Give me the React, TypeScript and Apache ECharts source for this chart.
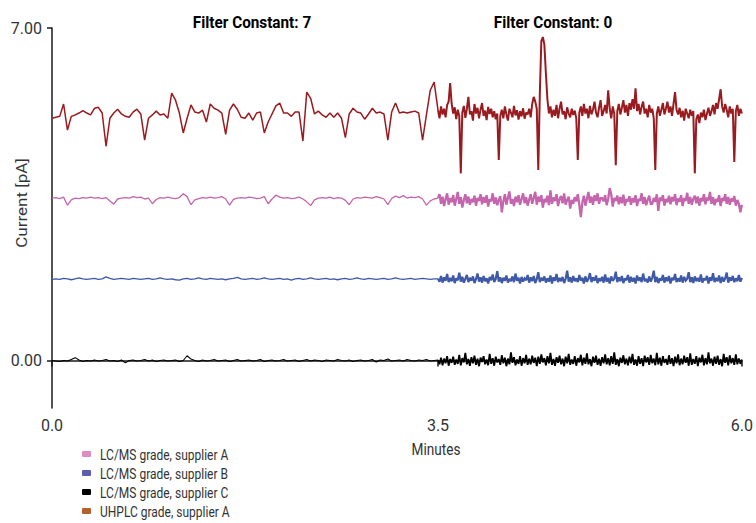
import React, { useEffect, useRef } from "react";
import * as echarts from "echarts";

const FONT = "Roboto, 'Liberation Sans', sans-serif";

const LEFT_STEP = 0.035; // minutes between samples, filter constant 7 part (0 - 3.5)
const RIGHT_START = 3.5;
const RIGHT_STEP = 0.0125; // minutes between samples, filter constant 0 part (3.5 - 6.0)

const xTicksLeft = [0, 3.5];
const xTicksRight = [6];
const yTicks = [0, 7];

const seriesNames = [
  "LC/MS grade, supplier A",
  "LC/MS grade, supplier B",
  "LC/MS grade, supplier C",
  "UHPLC grade, supplier A",
];

// UHPLC grade, supplier A (dark red trace)
const uhplcLeft = [
  5.10, 5.12, 5.14, 5.40, 4.85, 5.14, 5.17, 5.21, 5.26, 5.21,
  5.17, 5.31, 5.33, 5.21, 4.51, 5.10, 5.21, 5.29, 5.19, 5.14,
  5.12, 5.23, 5.29, 5.19, 4.64, 5.10, 5.17, 5.25, 5.17, 5.19,
  5.10, 5.63, 5.48, 5.21, 4.79, 5.10, 5.38, 5.23, 5.21, 5.27,
  5.02, 5.40, 5.31, 5.27, 5.21, 4.76, 5.27, 5.40, 5.29, 5.12,
  5.10, 5.21, 5.06, 5.21, 5.23, 4.79, 5.02, 5.19, 5.36, 5.42,
  5.21, 5.21, 5.14, 5.23, 5.23, 4.62, 5.65, 5.52, 5.19, 5.25,
  5.17, 5.12, 5.21, 5.12, 5.21, 5.10, 4.69, 5.19, 5.31, 5.23,
  5.21, 5.08, 5.19, 5.31, 5.21, 5.23, 5.19, 4.64, 5.23, 5.42,
  5.21, 5.23, 5.21, 5.23, 5.25, 5.21, 4.64, 5.17, 5.69, 5.86,
  5.27,
];
const uhplcRight = [
  5.27, 5.10, 5.35, 5.18, 5.30, 5.12, 5.38, 5.45, 5.84, 5.40,
  5.20, 5.33, 5.08, 5.28, 5.15, 3.94, 5.22, 5.36, 5.11, 5.30,
  5.55, 5.18, 5.25, 5.05, 5.40, 5.20, 5.32, 5.10, 5.28, 5.42,
  5.15, 5.26, 5.06, 5.34, 5.19, 5.30, 5.12, 5.25, 5.08, 5.20,
  4.22, 5.15, 5.28, 5.10, 5.35, 5.18, 5.05, 5.30, 5.22, 5.12,
  5.36, 5.16, 5.27, 5.07, 5.25, 5.14, 5.31, 5.09, 5.22, 5.18,
  5.30, 5.12, 5.40, 5.55, 5.45, 5.30, 4.01, 5.60, 6.72, 6.81,
  6.65, 6.05, 5.50, 5.20, 5.35, 5.12, 5.28, 5.15, 5.38, 5.10,
  5.30, 5.45, 5.18, 5.25, 5.08, 5.33, 5.20, 5.12, 5.30, 5.17,
  5.26, 5.10, 4.22, 5.22, 5.35, 5.15, 5.40, 5.20, 5.30, 5.10,
  5.36, 5.18, 5.28, 5.45, 5.22, 5.12, 5.32, 5.48, 5.15, 5.25,
  5.38, 5.20, 5.69, 5.30, 5.10, 5.35, 5.20, 4.11, 5.25, 5.40,
  5.18, 5.32, 5.48, 5.22, 5.38, 5.15, 5.42, 5.28, 5.50, 5.30,
  5.73, 5.25, 5.40, 5.18, 5.34, 5.45, 5.20, 5.30, 5.12, 5.38,
  5.22, 5.30, 5.10, 4.01, 5.20, 5.35, 5.15, 5.28, 5.42, 5.18,
  5.30, 5.45, 5.22, 5.35, 5.15, 5.40, 5.65, 5.28, 5.18, 5.32,
  5.12, 5.26, 5.05, 5.30, 5.20, 5.10, 5.28, 5.15, 5.25, 3.94,
  5.08, 5.18, 5.00, 5.22, 5.12, 5.28, 5.06, 5.20, 5.32, 5.15,
  5.25, 5.38, 5.18, 5.42, 5.30, 5.50, 5.71, 5.35, 5.22, 5.40,
  5.28, 5.12, 5.35, 5.20, 5.30, 4.18, 5.25, 5.38, 5.15, 5.30,
  5.20,
];

// LC/MS grade, supplier A (pink trace)
const lcmsALeft = [
  3.42, 3.43, 3.41, 3.44, 3.27, 3.38, 3.42, 3.41, 3.43, 3.42,
  3.44, 3.42, 3.43, 3.41, 3.43, 3.36, 3.29, 3.40, 3.42, 3.43,
  3.42, 3.45, 3.43, 3.44, 3.40, 3.42, 3.30, 3.39, 3.43, 3.42,
  3.44, 3.42, 3.41, 3.43, 3.51, 3.45, 3.28, 3.38, 3.41, 3.43,
  3.42, 3.44, 3.42, 3.43, 3.45, 3.40, 3.27, 3.39, 3.42, 3.43,
  3.42, 3.44, 3.43, 3.41, 3.42, 3.45, 3.30, 3.40, 3.48, 3.44,
  3.42, 3.43, 3.41, 3.42, 3.44, 3.40, 3.34, 3.26, 3.38, 3.42,
  3.43, 3.42, 3.44, 3.41, 3.43, 3.42, 3.37, 3.28, 3.40, 3.43,
  3.42, 3.44, 3.43, 3.42, 3.45, 3.43, 3.40, 3.28, 3.41, 3.46,
  3.43, 3.47, 3.42, 3.44, 3.43, 3.45, 3.40, 3.27, 3.36, 3.40,
  3.42,
];
const lcmsARight = [
  3.42, 3.50, 3.30, 3.45, 3.25, 3.40, 3.52, 3.28, 3.42, 3.33,
  3.48, 3.26, 3.40, 3.55, 3.30, 3.44, 3.22, 3.38, 3.50, 3.31,
  3.45, 3.28, 3.40, 3.33, 3.47, 3.26, 3.42, 3.36, 3.50, 3.29,
  3.44, 3.32, 3.48, 3.24, 3.40, 3.35, 3.52, 3.30, 3.43, 3.27,
  3.38, 3.46, 3.12, 3.35, 3.50, 3.28, 3.42, 3.56, 3.30, 3.40,
  3.25, 3.45, 3.33, 3.48, 3.28, 3.40, 3.52, 3.31, 3.44, 3.26,
  3.39, 3.50, 3.30, 3.42, 3.55, 3.28, 3.45, 3.34, 3.48, 3.22,
  3.40, 3.33, 3.47, 3.27, 3.58, 3.30, 3.43, 3.36, 3.50, 3.25,
  3.40, 3.46, 3.31, 3.52, 3.28, 3.38, 3.45, 3.20, 3.38, 3.30,
  3.44, 3.35, 3.50, 3.28, 3.02, 3.33, 3.47, 3.26, 3.40, 3.55,
  3.32, 3.45, 3.28, 3.48, 3.36, 3.52, 3.30, 3.42, 3.42, 3.35,
  3.48, 3.27, 3.40, 3.63, 3.50, 3.24, 3.42, 3.36, 3.47, 3.29,
  3.44, 3.31, 3.49, 3.26, 3.40, 3.35, 3.46, 3.28, 3.42, 3.33,
  3.48, 3.25, 3.40, 3.36, 3.52, 3.30, 3.44, 3.27, 3.38, 3.47,
  3.30, 3.30, 3.42, 3.34, 3.50, 3.15, 3.43, 3.36, 3.48, 3.26,
  3.40, 3.33, 3.47, 3.29, 3.44, 3.35, 3.50, 3.27, 3.41, 3.34,
  3.48, 3.25, 3.42, 3.36, 3.53, 3.30, 3.44, 3.28, 3.40, 3.47,
  3.31, 3.45, 3.26, 3.42, 3.35, 3.50, 3.29, 3.43, 3.37, 3.55,
  3.30, 3.44, 3.27, 3.40, 3.34, 3.48, 3.25, 3.42, 3.36, 3.50,
  3.30, 3.44, 3.28, 3.41, 3.35, 3.46, 3.26, 3.38, 3.30, 3.12,
  3.28,
];

// LC/MS grade, supplier B (blue trace)
const lcmsBLeft = [
  1.71, 1.72, 1.71, 1.73, 1.72, 1.70, 1.72, 1.74, 1.72, 1.71,
  1.72, 1.73, 1.71, 1.72, 1.76, 1.73, 1.71, 1.72, 1.73, 1.72,
  1.71, 1.73, 1.72, 1.71, 1.72, 1.73, 1.71, 1.72, 1.74, 1.72,
  1.71, 1.72, 1.70, 1.69, 1.72, 1.73, 1.71, 1.72, 1.74, 1.72,
  1.71, 1.73, 1.72, 1.71, 1.72, 1.70, 1.72, 1.73, 1.75, 1.72,
  1.71, 1.72, 1.73, 1.71, 1.72, 1.74, 1.72, 1.71, 1.72, 1.73,
  1.71, 1.72, 1.69, 1.72, 1.73, 1.71, 1.72, 1.74, 1.72, 1.71,
  1.72, 1.73, 1.71, 1.72, 1.70, 1.72, 1.73, 1.71, 1.72, 1.74,
  1.72, 1.71, 1.73, 1.72, 1.71, 1.72, 1.73, 1.71, 1.72, 1.74,
  1.72, 1.71, 1.72, 1.73, 1.71, 1.72, 1.73, 1.72, 1.71, 1.72,
  1.72,
];
const lcmsBRight = [
  1.72, 1.66, 1.78, 1.64, 1.75, 1.68, 1.82, 1.65, 1.74, 1.67,
  1.79, 1.63, 1.73, 1.69, 1.85, 1.66, 1.76, 1.64, 1.72, 1.80,
  1.65, 1.74, 1.68, 1.77, 1.63, 1.71, 1.83, 1.66, 1.75, 1.64,
  1.78, 1.67, 1.73, 1.62, 1.76, 1.69, 1.81, 1.65, 1.72, 1.88,
  1.66, 1.75, 1.63, 1.74, 1.68, 1.79, 1.64, 1.72, 1.67, 1.77,
  1.65, 1.83, 1.68, 1.74, 1.62, 1.76, 1.66, 1.73, 1.69, 1.80,
  1.64, 1.75, 1.67, 1.78, 1.63, 1.71, 1.86, 1.65, 1.74, 1.68,
  1.77, 1.64, 1.73, 1.66, 1.79, 1.62, 1.75, 1.68, 1.82, 1.65,
  1.74, 1.67, 1.76, 1.63, 1.72, 1.89, 1.66, 1.75, 1.64, 1.78,
  1.67, 1.73, 1.65, 1.80, 1.68, 1.74, 1.62, 1.77, 1.66, 1.72,
  1.84, 1.65, 1.75, 1.68, 1.79, 1.63, 1.73, 1.67, 1.76, 1.64,
  1.81, 1.66, 1.74, 1.62, 1.77, 1.68, 1.72, 1.87, 1.65, 1.75,
  1.67, 1.78, 1.63, 1.73, 1.69, 1.80, 1.64, 1.76, 1.66, 1.74,
  1.62, 1.79, 1.68, 1.75, 1.65, 1.83, 1.67, 1.72, 1.64, 1.77,
  1.66, 1.74, 1.89, 1.65, 1.76, 1.63, 1.73, 1.68, 1.80, 1.64,
  1.75, 1.67, 1.78, 1.62, 1.74, 1.69, 1.82, 1.65, 1.73, 1.66,
  1.79, 1.64, 1.76, 1.68, 1.72, 1.86, 1.65, 1.75, 1.63, 1.77,
  1.67, 1.74, 1.66, 1.81, 1.64, 1.73, 1.69, 1.78, 1.62, 1.75,
  1.68, 1.84, 1.65, 1.74, 1.67, 1.79, 1.63, 1.76, 1.66, 1.73,
  1.85, 1.64, 1.75, 1.68, 1.78, 1.65, 1.73, 1.67, 1.80, 1.66,
  1.74,
];

// LC/MS grade, supplier C (black trace)
const lcmsCLeft = [
  0.00, -0.01, -0.02, 0.00, -0.01, 0.02, 0.06, 0.01, -0.02, 0.00,
  -0.01, 0.01, -0.01, 0.00, 0.02, -0.01, 0.00, -0.02, 0.01, -0.05,
  0.00, 0.01, -0.01, 0.00, 0.02, -0.01, 0.01, -0.02, 0.00, 0.01,
  -0.01, 0.00, 0.01, -0.02, 0.00, 0.10, 0.03, 0.00, -0.02, 0.01,
  -0.01, 0.00, 0.02, -0.01, 0.00, 0.01, -0.02, 0.00, 0.02, -0.01,
  0.00, 0.01, -0.01, 0.00, 0.02, -0.02, 0.00, 0.01, -0.01, 0.00,
  0.02, -0.01, 0.00, 0.01, -0.02, 0.00, 0.02, -0.01, 0.01, 0.00,
  -0.02, 0.01, 0.00, -0.01, 0.02, 0.00, -0.01, 0.01, -0.02, 0.00,
  0.01, -0.01, 0.00, 0.02, -0.03, 0.01, 0.00, 0.03, -0.01, 0.00,
  0.01, -0.01, 0.02, 0.00, -0.01, 0.01, 0.00, 0.02, -0.01, 0.00,
  0.01,
];
const lcmsCRight = [
  0.01, -0.08, 0.06, -0.10, 0.04, -0.06, 0.09, -0.11, 0.03, -0.05,
  0.08, -0.09, 0.02, -0.07, 0.12, -0.10, 0.05, -0.04, 0.16, -0.08,
  0.03, -0.11, 0.07, -0.06, 0.10, -0.09, 0.04, -0.12, 0.06, -0.03,
  0.09, -0.08, 0.02, -0.10, 0.14, -0.07, 0.05, -0.11, 0.08, -0.04,
  0.03, -0.09, 0.11, -0.06, 0.06, -0.12, 0.04, -0.08, 0.17, -0.05,
  0.07, -0.10, 0.02, -0.07, 0.09, -0.11, 0.05, -0.06, 0.12, -0.09,
  0.04, -0.08, 0.10, -0.05, 0.06, -0.12, 0.08, -0.07, 0.13, -0.04,
  0.05, -0.10, 0.09, -0.06, 0.16, -0.09, 0.03, -0.11, 0.07, -0.05,
  0.10, -0.08, 0.04, -0.12, 0.08, -0.06, 0.14, -0.09, 0.02, -0.07,
  0.09, -0.11, 0.05, -0.04, 0.12, -0.10, 0.06, -0.07, 0.15, -0.08,
  0.03, -0.12, 0.08, -0.05, 0.10, -0.09, 0.04, -0.11, 0.07, -0.06,
  0.13, -0.08, 0.05, -0.10, 0.09, -0.07, 0.17, -0.09, 0.03, -0.12,
  0.06, -0.05, 0.11, -0.08, 0.04, -0.10, 0.08, -0.06, 0.14, -0.09,
  0.02, -0.11, 0.09, -0.07, 0.05, -0.12, 0.10, -0.04, 0.07, -0.09,
  0.12, -0.06, 0.04, -0.10, 0.16, -0.08, 0.06, -0.11, 0.09, -0.05,
  0.03, -0.09, 0.11, -0.07, 0.05, -0.12, 0.08, -0.06, 0.13, -0.10,
  0.04, -0.08, 0.10, -0.05, 0.07, -0.11, 0.15, -0.09, 0.03, -0.07,
  0.09, -0.12, 0.06, -0.04, 0.12, -0.10, 0.05, -0.08, 0.17, -0.06,
  0.04, -0.11, 0.08, -0.07, 0.10, -0.09, 0.03, -0.12, 0.14, -0.05,
  0.07, -0.10, 0.11, -0.06, 0.05, -0.09, 0.13, -0.08, 0.04, -0.07,
  0.02,
];

const traceColors = ["#c465ad", "#3f59a9", "#000000", "#9a1b1f"];
const legendColors = ["#df8cc5", "#5b5db1", "#000000", "#b6612c"];
const leftWidths = [1.3, 1.3, 1.1, 1.5];
const rightWidths = [2.3, 2.2, 1.8, 2.0];

const toPairs = (vals: number[], t0: number, step: number) =>
  vals.map((v, i) => [+(t0 + i * step).toFixed(4), v]);

const condensedText = (
  text: string,
  x: number,
  y: number,
  font: string,
  fill: string,
  align: string,
  scaleX: number,
  rotation = 0
) => ({
  type: "text",
  x,
  y,
  rotation,
  scaleX: rotation ? 1 : scaleX,
  scaleY: rotation ? scaleX : 1,
  style: { text, fill, font, textAlign: align, textVerticalAlign: "middle" },
});

export default function App() {
  const ref = useRef<HTMLDivElement>(null);

  useEffect(() => {
    if (!ref.current) return;
    const chart = echarts.init(ref.current, undefined, { renderer: "svg" });

    const lefts = [lcmsALeft, lcmsBLeft, lcmsCLeft, uhplcLeft];
    const rights = [lcmsARight, lcmsBRight, lcmsCRight, uhplcRight];

    const series: any[] = [];
    [3, 0, 1, 2].forEach((k) => {
      series.push({
        name: seriesNames[k],
        type: "line",
        xAxisIndex: 0,
        yAxisIndex: 0,
        data: toPairs(lefts[k], 0, LEFT_STEP),
        showSymbol: false,
        symbol: "none",
        color: traceColors[k],
        lineStyle: { width: leftWidths[k], color: traceColors[k] },
      });
      series.push({
        name: seriesNames[k],
        type: "line",
        xAxisIndex: 1,
        yAxisIndex: 1,
        data: toPairs(rights[k], RIGHT_START, RIGHT_STEP),
        showSymbol: false,
        symbol: "none",
        color: traceColors[k],
        lineStyle: { width: rightWidths[k], color: traceColors[k], join: "miter", miterLimit: 2 },
      });
    });

    const axisLineStyle = { color: "#1a1a1a", width: 1.5 };
    const labelStyle = { color: "#333", fontFamily: FONT, fontSize: 16 };

    const legendGraphics: any[] = [];
    seriesNames.forEach((n, k) => {
      const cy = 454 + k * 19;
      legendGraphics.push({
        type: "rect",
        shape: { x: 82, y: cy - 3, width: 9, height: 6, r: 1 },
        style: { fill: legendColors[k] },
      });
      legendGraphics.push(condensedText(n, 100, cy, `15px ${FONT}`, "#333", "left", 0.8));
    });

    const option: any = {
      animation: false,
      grid: [
        { left: 52, width: 386, top: 28, bottom: 115 },
        { left: 438, width: 307, top: 28, bottom: 115 },
      ],
      xAxis: [
        {
          type: "value",
          gridIndex: 0,
          min: 0,
          max: 3.5,
          axisLine: { show: true, lineStyle: axisLineStyle },
          axisTick: { show: true, length: 6, customValues: xTicksLeft, lineStyle: axisLineStyle },
          axisLabel: {
            ...labelStyle,
            margin: 9,
            customValues: xTicksLeft,
            formatter: (v: number) => v.toFixed(1),
          },
          splitLine: { show: false },
        },
        {
          type: "value",
          gridIndex: 1,
          min: 3.5,
          max: 6,
          axisLine: { show: true, lineStyle: axisLineStyle },
          axisTick: { show: true, length: 6, customValues: xTicksRight, lineStyle: axisLineStyle },
          axisLabel: {
            ...labelStyle,
            margin: 9,
            customValues: xTicksRight,
            formatter: (v: number) => v.toFixed(1),
          },
          splitLine: { show: false },
        },
      ],
      yAxis: [
        {
          type: "value",
          gridIndex: 0,
          min: -1,
          max: 7,
          axisLine: { show: true, lineStyle: axisLineStyle },
          axisTick: { show: true, length: 5, customValues: yTicks, lineStyle: axisLineStyle },
          axisLabel: {
            ...labelStyle,
            margin: 10,
            customValues: yTicks,
            formatter: (v: number) => v.toFixed(2),
          },
          splitLine: { show: false },
        },
        {
          type: "value",
          gridIndex: 1,
          min: -1,
          max: 7,
          show: false,
          splitLine: { show: false },
        },
      ],
      graphic: [
        condensedText("Filter Constant: 7", 252, 22, `bold 17px ${FONT}`, "#000", "center", 0.9),
        condensedText("Filter Constant: 0", 553, 22, `bold 17px ${FONT}`, "#000", "center", 0.9),
        condensedText("Minutes", 436, 450, `16px ${FONT}`, "#333", "center", 0.85),
        condensedText("Current [pA]", 22, 203, `17px ${FONT}`, "#333", "center", 0.9, Math.PI / 2),
        ...legendGraphics,
      ],
      series,
    };

    chart.setOption(option);
    return () => chart.dispose();
  }, []);

  return (
    <div
      ref={ref}
      style={{ position: "fixed", left: 0, top: 0, width: 756, height: 523, background: "#fff" }}
    />
  );
}
